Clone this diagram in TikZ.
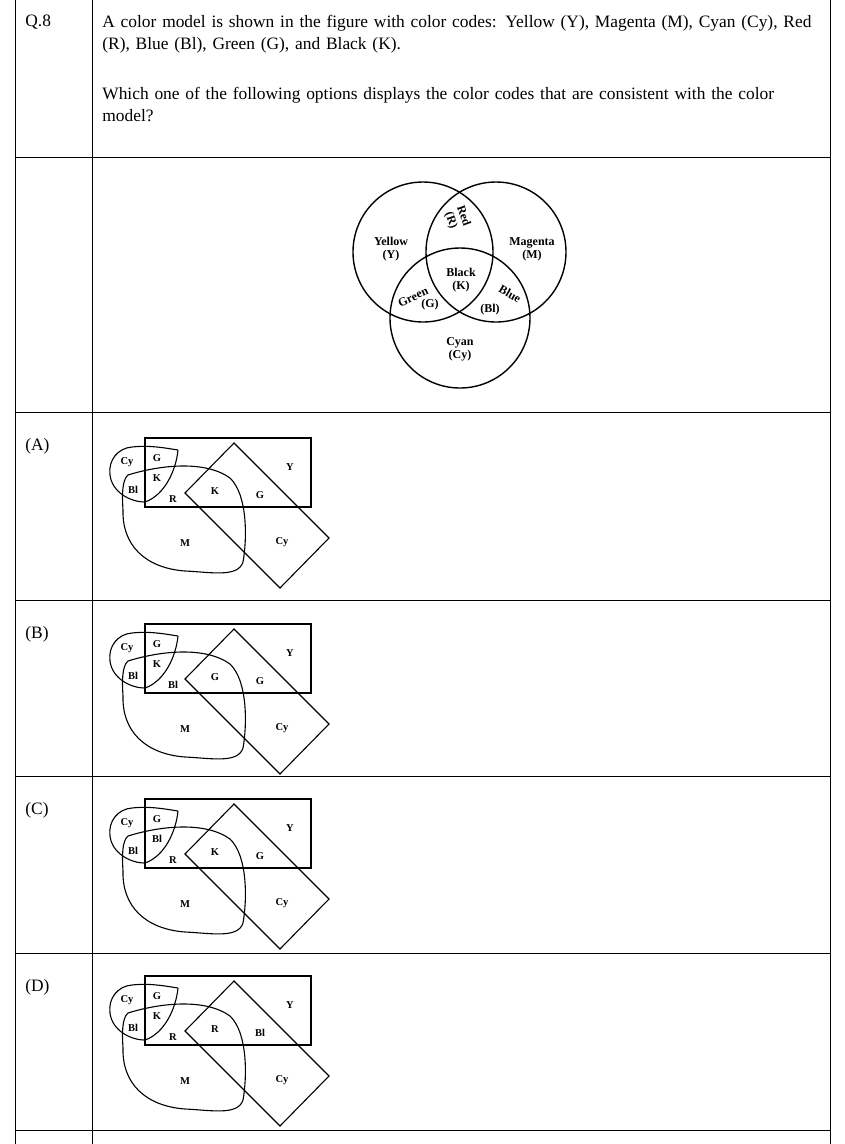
\documentclass[tikz,border=0pt]{standalone}
\usepackage{fontspec}
\setmainfont{Liberation Serif}
\tikzset{
  lab/.style={font=\bfseries\fontsize{10.5}{11}\selectfont, inner sep=0pt, align=center},
  venn/.style={font=\bfseries\fontsize{12}{13}\selectfont, inner sep=0pt, align=center},
  qtext/.style={font=\fontsize{17.4}{22}\selectfont, anchor=north west, inner sep=0pt, align=left, text width=724pt},
  shapeline/.style={line width=1.1pt}
}
% one answer figure: y offset and five labels
\newcommand{\optfig}[6]{%
  \begin{scope}[yshift=-#1pt]
    \draw[shapeline] (145,438) rectangle (311,507);
    \draw[shapeline] (234,443) -- (329,538) -- (280,588) -- (185,493) -- cycle;
    \draw[shapeline] (128,475) .. controls (160,465) and (205,460) .. (230,478)
      .. controls (248,495) and (247,540) .. (243,562)
      .. controls (238,578) and (210,572) .. (185,571)
      .. controls (145,568) and (122,545) .. (123,510)
      .. controls (122,495) and (122,480) .. (128,475);
    \draw[shapeline] (178,450) .. controls (176,470) and (165,495) .. (145,502)
      .. controls (130,502) and (112,492) .. (110,475)
      .. controls (108,460) and (118,448) .. (132,447)
      .. controls (150,445) and (165,448) .. (178,450);
    \node[lab] (cy1) at (127,462) {Cy};
    \node[lab] (l1) at (157,458) {#2};
    \node[lab] (l2) at (157,478) {#3};
    \node[lab] (bl) at (133,490) {Bl};
    \node[lab] (l3) at (173,499) {#4};
    \node[lab] (l4) at (215,491) {#5};
    \node[lab] (l5) at (260,495) {#6};
    \node[lab] (y) at (290,467) {Y};
    \node[lab] (m) at (185,543) {M};
    \node[lab] (cy2) at (282,542) {Cy};
  \end{scope}}

\begin{document}
\begin{tikzpicture}[x=1pt, y=-1pt, line width=0.7pt]
\useasboundingbox (0,0) rectangle (845,1144);

% table grid
\draw (15,0) -- (15,1144);
\draw (92,0) -- (92,1144);
\draw (830,0) -- (830,1144);
\foreach \yy in {157,412,600,776,953,1130}
  \draw (15,\yy) -- (830,\yy);

% question
\node[qtext] (qnum) at (25,15) {Q.8};
\node[qtext] (q1) at (102,15) {A color model is shown in the figure with color codes: Yellow (Y), Magenta (M), Cyan (Cy), Red (R), Blue (Bl), Green (G), and Black (K).};
\node[qtext] (q2) at (102,87) {Which one of the following options displays the color codes that are consistent with the color model?};

% color model
\draw[shapeline, line width=1.4pt] (423,252) circle (70);
\draw[shapeline, line width=1.4pt] (496,252) circle (70);
\draw[shapeline, line width=1.4pt] (460,318) circle (70);
\node[venn] (yel) at (391,249) {Yellow\\(Y)};
\node[venn] (mag) at (532,249) {Magenta\\(M)};
\node[venn] (cya) at (460,349) {Cyan\\(Cy)};
\node[venn] (blk) at (461,280) {Black\\(K)};
\node[venn, rotate=-70] (red) at (457,218) {Red\\(R)};
\node[venn, rotate=25] (grn) at (413,297) {Green};
\node[venn] (grnc) at (430,305) {(G)};
\node[venn, rotate=-30] (blu) at (510,294) {Blue};
\node[venn] (bluc) at (490,310) {(Bl)};

% options
\node[qtext] (oa) at (25,438) {(A)};
\node[qtext] (ob) at (25,626) {(B)};
\node[qtext] (oc) at (25,802) {(C)};
\node[qtext] (od) at (25,979) {(D)};
\optfig{0}{G}{K}{R}{K}{G}
\optfig{186}{G}{K}{Bl}{G}{G}
\optfig{361}{G}{Bl}{R}{K}{G}
\optfig{538}{G}{K}{R}{R}{Bl}
\end{tikzpicture}
\end{document}
